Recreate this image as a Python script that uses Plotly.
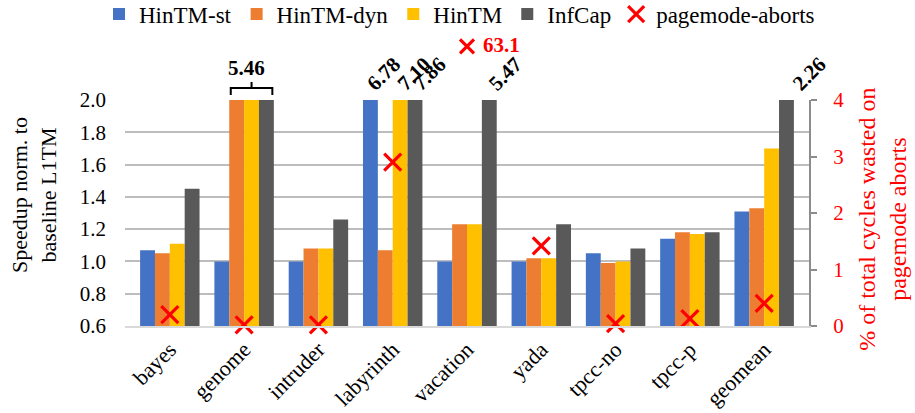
import plotly.graph_objects as go

# ---- data -------------------------------------------------------------
categories = ["bayes", "genome", "intruder", "labyrinth", "vacation",
              "yada", "tpcc-no", "tpcc-p", "geomean"]

hintm_st = [1.07, 1.00, 1.00, 6.78, 1.00, 1.00, 1.05, 1.14, 1.31]
hintm_dyn = [1.05, 5.46, 1.08, 1.07, 1.23, 1.02, 0.99, 1.18, 1.33]
hintm = [1.11, 5.46, 1.08, 7.10, 1.23, 1.02, 1.00, 1.17, 1.70]
infcap = [1.45, 5.46, 1.26, 7.86, 5.47, 1.23, 1.08, 1.18, 2.26]

# % of total cycles wasted on pagemode aborts (secondary axis)
pagemode_aborts = [0.20, 0.02, 0.02, 2.90, 63.1, 1.42, 0.04, 0.13, 0.40]

series_names = ["HinTM-st", "HinTM-dyn", "HinTM", "InfCap"]
series_values = [hintm_st, hintm_dyn, hintm, infcap]
series_colors = ["#4472C4", "#ED7D31", "#FFC000", "#595959"]

# ---- axis setup ---------------------------------------------------------
Y_MIN, Y_MAX = 0.6, 2.0
Y2_MIN, Y2_MAX = 0.0, 4.0
Y2_OVERFLOW_ROW = 4.95          # where off-scale abort points are drawn
BARGAP = 0.2
FONT = "Liberation Serif"
RED = "#FF0000"
X_HALF = 7                      # half size (px) of the abort cross marker
N_CAT = len(categories)


def y2_to_paper(v):
    return (v - Y2_MIN) / (Y2_MAX - Y2_MIN)


def cat_to_paper(pos):
    # category axis spans [-0.5, N_CAT - 0.5]
    return (pos + 0.5) / N_CAT


fig = go.Figure()

for name, vals, color in zip(series_names, series_values, series_colors):
    fig.add_trace(go.Bar(x=categories, y=vals, name=name,
                         marker=dict(color=color, line=dict(width=0))))

# in-range abort points go through the secondary axis as a scatter trace
aborts_in = [v if v <= Y2_MAX else None for v in pagemode_aborts]
fig.add_trace(go.Scatter(
    x=categories, y=aborts_in, yaxis="y2", name="pagemode-aborts",
    mode="markers", cliponaxis=False,
    marker=dict(symbol="x-thin", size=17, color=RED,
                line=dict(color=RED, width=3.2)),
))

annotations = []
shapes = []

# values of speedup bars that run past the top of the axis
n_series = len(series_values)
bar_w = (1 - BARGAP) / n_series


def bar_x(cat_idx, s_idx):
    return cat_idx + (s_idx - (n_series - 1) / 2) * bar_w


top_tickvals, top_ticktext = [], []
for ci in range(N_CAT):
    over = [si for si in range(n_series) if series_values[si][ci] > Y_MAX]
    if not over:
        continue
    vals = sorted({series_values[si][ci] for si in over})
    if len(over) > 1 and len(vals) == 1:
        # several clipped bars sharing one value: bracket + single label
        x0 = bar_x(ci, over[0]) - 0.08
        x1 = bar_x(ci, over[-1]) + 0.08
        xm = (bar_x(ci, over[0]) + bar_x(ci, over[-1])) / 2
        path = (f"M{x0:.4f},5 L{x0:.4f},12 L{x1:.4f},12 L{x1:.4f},5 "
                f"M{xm:.4f},12 L{xm:.4f},18")
        shapes.append(dict(type="path", xref="x", yref="paper",
                           ysizemode="pixel", yanchor=1, path=path,
                           line=dict(color="black", width=2)))
        annotations.append(dict(x=cat_to_paper(xm), y=1, xref="paper",
                                yref="paper",
                                text=f"<b>{vals[0]:.2f}</b>",
                                showarrow=False, yshift=32,
                                xanchor="center", yanchor="middle",
                                font=dict(family=FONT, size=21, color="black")))
    else:
        # slanted value labels along a top axis, one per clipped bar
        for si in over:
            top_tickvals.append(bar_x(ci, si))
            top_ticktext.append(f"<b>{series_values[si][ci]:.2f}</b>")

# empty trace so the top label axis is laid out
fig.add_trace(go.Scatter(x=[], y=[], xaxis="x2", yaxis="y",
                         showlegend=False, hoverinfo="skip"))

# off-scale abort points: cross above the frame plus the value
for ci, v in enumerate(pagemode_aborts):
    if v > Y2_MAX:
        yp = y2_to_paper(Y2_OVERFLOW_ROW)
        shapes.append(dict(
            type="path", xref="x", yref="paper",
            xsizemode="pixel", ysizemode="pixel", xanchor=ci, yanchor=yp,
            path=(f"M{-X_HALF},{-X_HALF} L{X_HALF},{X_HALF} "
                  f"M{-X_HALF},{X_HALF} L{X_HALF},{-X_HALF}"),
            line=dict(color=RED, width=3.2)))
        annotations.append(dict(
            x=cat_to_paper(ci), y=yp, xref="paper", yref="paper",
            text=f"<b>{v:.1f}</b>", showarrow=False,
            xanchor="left", yanchor="middle", xshift=14, yshift=1,
            font=dict(family=FONT, size=21, color=RED)))

# axis titles
annotations.append(dict(
    x=0, y=0.58, xref="paper", yref="paper", xshift=-91,
    text="Speedup norm. to<br>baseline L1TM", textangle=-90,
    showarrow=False, xanchor="center", yanchor="middle",
    font=dict(family=FONT, size=22, color="black")))
annotations.append(dict(
    x=1, y=0.47, xref="paper", yref="paper", xshift=74,
    text="% of total cycles wasted on<br>pagemode aborts", textangle=-90,
    showarrow=False, xanchor="center", yanchor="middle",
    font=dict(family=FONT, size=24, color=RED)))

fig.update_layout(
    width=915, height=413,
    margin=dict(l=125, r=106, t=100, b=87, autoexpand=False),
    paper_bgcolor="white", plot_bgcolor="white",
    barmode="group", bargap=BARGAP, bargroupgap=0,
    font=dict(family=FONT, size=21, color="black"),
    showlegend=True,
    legend=dict(orientation="h", x=-0.038, y=1.38, xanchor="left",
                yanchor="middle", font=dict(family=FONT, size=23),
                itemwidth=30, bgcolor="rgba(0,0,0,0)"),
    xaxis=dict(type="category", tickangle=-45, showgrid=False,
               showline=True, linecolor="#D9D9D9", linewidth=2,
               ticks="", automargin=False,
               tickfont=dict(family=FONT, size=22)),
    xaxis2=dict(overlaying="x", side="top", anchor="y", type="linear",
                range=[-0.5, N_CAT - 0.5], showgrid=False, zeroline=False,
                showline=False, ticks="", tickmode="array",
                tickvals=top_tickvals, ticktext=top_ticktext,
                tickangle=-45, ticklabelstandoff=0, automargin=False,
                tickfont=dict(family=FONT, size=21, color="black")),
    yaxis=dict(range=[Y_MIN, Y_MAX], tick0=0.6, dtick=0.2,
               tickformat=".1f", showgrid=True, gridcolor="#BDBDBD",
               gridwidth=2, zeroline=False, showline=False, ticks="",
               automargin=False,
               ticklabelstandoff=18, tickfont=dict(family=FONT, size=21)),
    yaxis2=dict(range=[Y2_MIN, Y2_MAX], overlaying="y", side="right",
                dtick=1, showgrid=False, zeroline=False, showline=True,
                linecolor="#8C8C8C", linewidth=2, ticks="outside",
                ticklen=6, tickwidth=2, tickcolor="#8C8C8C",
                ticklabelstandoff=12, automargin=False,
                tickfont=dict(family=FONT, size=21, color=RED)),
    annotations=annotations,
    shapes=shapes,
)

fig.write_html("out.html")
